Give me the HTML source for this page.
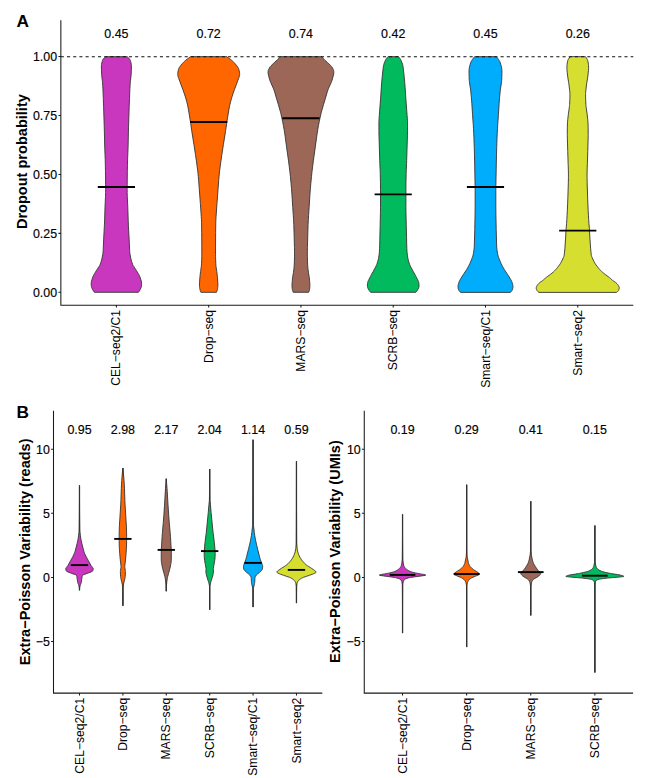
<!DOCTYPE html>
<html><head><meta charset="utf-8"><title>Figure</title>
<style>html,body{margin:0;padding:0;background:#fff;}body{width:645px;height:778px;overflow:hidden;}svg{display:block;} .t{stroke:#000;stroke-width:0.15px;}</style>
</head><body>
<svg width="645" height="778" viewBox="0 0 645 778">
<rect width="645" height="778" fill="#ffffff"/>
<g style="font-family:'Liberation Sans',Arial,sans-serif">
<path d="M127.10,56.65 L128.30,57.65 128.85,58.15 129.33,58.65 129.71,59.15 129.95,59.60 130.35,60.65 130.68,61.65 131.07,63.15 131.26,64.15 131.32,64.65 131.37,65.15 131.40,66.00 131.34,70.15 131.17,74.65 130.98,76.65 130.45,80.65 130.27,82.65 130.08,85.65 129.89,89.15 129.48,98.65 129.21,106.15 128.54,127.15 128.41,132.15 128.08,147.15 127.60,159.15 127.45,165.15 127.34,171.65 127.19,184.15 127.15,189.65 127.16,192.65 127.29,196.65 127.78,206.65 128.19,220.15 128.41,225.65 129.09,238.15 129.57,249.15 129.72,251.65 129.88,253.15 130.10,254.65 130.57,257.15 131.00,259.15 131.52,261.15 132.00,262.65 132.60,264.30 132.98,265.15 133.25,265.65 133.85,266.65 135.52,269.15 136.17,270.15 138.29,273.65 139.14,275.15 139.62,276.15 140.00,277.10 140.88,279.65 141.30,281.15 141.49,282.15 141.59,283.15 141.59,284.15 141.53,285.15 141.44,286.15 141.38,286.65 141.26,287.15 141.09,287.65 140.87,288.15 140.12,289.65 139.85,290.15 139.23,291.15 138.40,292.30 94.40,292.30 93.57,291.15 92.95,290.15 92.68,289.65 91.93,288.15 91.71,287.65 91.54,287.15 91.42,286.65 91.36,286.15 91.27,285.15 91.21,284.15 91.21,283.15 91.31,282.15 91.50,281.15 91.92,279.65 92.80,277.10 93.18,276.15 93.66,275.15 94.51,273.65 96.63,270.15 97.28,269.15 98.95,266.65 99.55,265.65 99.82,265.15 100.20,264.30 100.80,262.65 101.28,261.15 101.80,259.15 102.23,257.15 102.70,254.65 102.92,253.15 103.08,251.65 103.23,249.15 103.71,238.15 104.39,225.65 104.61,220.15 105.02,206.65 105.51,196.65 105.64,192.65 105.65,189.65 105.61,184.15 105.46,171.65 105.35,165.15 105.20,159.15 104.72,147.15 104.39,132.15 104.26,127.15 103.59,106.15 103.32,98.65 102.91,89.15 102.72,85.65 102.53,82.65 102.35,80.65 101.82,76.65 101.63,74.65 101.46,70.15 101.40,66.00 101.43,65.15 101.48,64.65 101.54,64.15 101.73,63.15 102.12,61.65 102.45,60.65 102.85,59.60 103.09,59.15 103.47,58.65 103.95,58.15 104.50,57.65 105.70,56.65 Z" fill="#C837BE" stroke="#333333" stroke-width="0.90" stroke-linejoin="round"/>
<path d="M226.72,56.65 L228.17,57.65 228.87,58.15 230.22,59.15 231.47,60.15 232.63,61.15 233.67,62.15 234.14,62.65 235.04,63.65 236.34,65.15 237.13,66.15 237.50,66.65 237.83,67.15 238.13,67.65 238.39,68.15 238.61,68.65 238.82,69.30 239.16,70.65 239.45,72.15 239.58,73.15 239.61,73.65 239.62,74.15 239.60,74.65 239.55,75.15 239.36,76.15 239.23,76.65 238.91,77.65 238.54,78.65 237.56,81.15 236.50,84.15 234.42,89.65 233.02,93.65 232.19,96.15 231.57,98.20 230.61,101.65 229.98,104.15 229.52,106.20 228.97,109.15 226.97,121.15 226.60,123.65 225.84,129.15 225.47,131.65 223.39,144.65 221.85,154.65 221.04,160.15 220.23,166.15 219.71,170.15 219.31,173.65 219.02,176.65 218.68,180.65 216.96,203.65 216.06,216.65 215.89,219.65 215.78,222.65 215.63,232.65 215.54,245.15 215.52,254.65 215.55,256.65 215.61,259.15 215.79,263.15 215.94,265.65 216.12,267.15 216.59,270.15 216.80,271.65 217.28,275.65 217.48,277.65 217.76,282.15 217.86,285.15 217.87,286.15 217.84,286.65 217.72,287.65 217.54,288.65 217.34,289.65 217.07,290.65 216.72,291.65 216.47,292.30 200.87,292.30 200.62,291.65 200.27,290.65 200.00,289.65 199.80,288.65 199.62,287.65 199.50,286.65 199.47,286.15 199.48,285.15 199.58,282.15 199.86,277.65 200.06,275.65 200.54,271.65 200.75,270.15 201.22,267.15 201.40,265.65 201.55,263.15 201.73,259.15 201.79,256.65 201.82,254.65 201.80,245.15 201.71,232.65 201.56,222.65 201.45,219.65 201.28,216.65 200.38,203.65 198.66,180.65 198.32,176.65 198.03,173.65 197.63,170.15 197.11,166.15 196.30,160.15 195.49,154.65 193.95,144.65 191.87,131.65 191.50,129.15 190.74,123.65 190.37,121.15 188.37,109.15 187.82,106.20 187.36,104.15 186.73,101.65 185.77,98.20 185.15,96.15 184.32,93.65 182.92,89.65 180.84,84.15 179.78,81.15 178.80,78.65 178.43,77.65 178.11,76.65 177.98,76.15 177.79,75.15 177.74,74.65 177.72,74.15 177.73,73.65 177.76,73.15 177.89,72.15 178.18,70.65 178.52,69.30 178.73,68.65 178.95,68.15 179.21,67.65 179.51,67.15 179.84,66.65 180.21,66.15 181.00,65.15 182.30,63.65 183.20,62.65 183.67,62.15 184.71,61.15 185.87,60.15 187.12,59.15 188.47,58.15 189.17,57.65 190.62,56.65 Z" fill="#FF6600" stroke="#333333" stroke-width="0.90" stroke-linejoin="round"/>
<path d="M321.94,56.65 L322.69,57.65 323.50,58.65 324.39,59.65 324.88,60.15 325.94,61.15 327.64,62.65 328.18,63.15 330.76,65.65 331.23,66.15 331.64,66.65 332.00,67.15 332.54,68.15 333.05,69.15 333.47,70.15 333.64,70.65 333.76,71.15 333.83,71.65 333.84,72.00 333.82,72.65 333.72,73.65 333.44,75.15 333.06,76.65 332.37,79.15 332.06,80.15 331.71,81.15 331.10,82.65 329.06,87.15 328.42,88.65 327.84,90.20 327.05,92.65 325.45,98.15 323.49,104.65 321.92,110.15 321.37,112.15 321.00,113.65 320.08,117.65 319.23,121.65 318.45,125.65 317.75,129.65 317.19,133.15 316.63,137.15 315.42,146.15 313.45,160.15 312.61,166.65 312.01,171.65 311.47,176.65 310.85,183.15 310.37,188.65 309.96,194.15 309.10,207.65 308.56,215.65 308.31,219.65 308.08,224.65 307.84,232.15 307.43,247.65 307.36,251.65 307.34,254.10 307.35,256.15 307.49,261.15 307.66,265.15 307.86,267.65 308.08,269.65 308.45,272.65 309.14,276.65 309.36,278.15 309.60,280.65 309.76,282.65 309.85,284.15 309.89,285.65 309.89,286.15 309.84,287.15 309.73,288.15 309.52,289.65 309.41,290.15 309.27,290.65 309.10,291.15 308.64,292.30 293.24,292.30 292.78,291.15 292.61,290.65 292.47,290.15 292.36,289.65 292.15,288.15 292.04,287.15 291.99,286.15 291.99,285.65 292.03,284.15 292.12,282.65 292.28,280.65 292.52,278.15 292.74,276.65 293.43,272.65 293.80,269.65 294.02,267.65 294.22,265.15 294.39,261.15 294.53,256.15 294.54,254.10 294.52,251.65 294.45,247.65 294.04,232.15 293.80,224.65 293.57,219.65 293.32,215.65 292.78,207.65 291.92,194.15 291.51,188.65 291.03,183.15 290.41,176.65 289.87,171.65 289.27,166.65 288.43,160.15 286.46,146.15 285.25,137.15 284.69,133.15 284.13,129.65 283.43,125.65 282.65,121.65 281.80,117.65 280.88,113.65 280.51,112.15 279.96,110.15 278.39,104.65 276.43,98.15 274.83,92.65 274.04,90.20 273.46,88.65 272.82,87.15 270.78,82.65 270.17,81.15 269.82,80.15 269.51,79.15 268.82,76.65 268.44,75.15 268.16,73.65 268.06,72.65 268.04,72.00 268.05,71.65 268.12,71.15 268.24,70.65 268.41,70.15 268.83,69.15 269.34,68.15 269.88,67.15 270.24,66.65 270.65,66.15 271.12,65.65 273.70,63.15 274.24,62.65 275.94,61.15 277.00,60.15 277.49,59.65 278.38,58.65 279.19,57.65 279.94,56.65 Z" fill="#9C6757" stroke="#333333" stroke-width="0.90" stroke-linejoin="round"/>
<path d="M398.46,56.65 L399.31,57.65 399.71,58.15 400.08,58.65 400.41,59.15 400.66,59.60 400.93,60.15 401.39,61.15 402.00,62.65 402.50,64.15 402.87,65.65 403.21,67.65 403.46,69.65 404.29,77.65 404.76,82.65 405.09,87.15 405.81,98.20 406.71,110.15 407.07,115.15 407.35,118.65 407.47,120.65 407.51,122.15 407.51,130.65 407.45,135.15 406.67,160.65 406.57,163.65 406.25,170.65 406.14,173.65 405.98,182.65 405.91,189.65 405.91,207.65 405.97,212.65 406.27,225.65 406.56,237.15 406.71,245.15 406.85,248.65 407.03,251.65 407.16,253.15 407.40,255.15 407.70,257.15 407.97,258.65 408.32,260.15 408.73,261.65 409.21,263.15 409.74,264.65 410.16,265.65 410.89,267.15 413.32,271.65 415.03,274.65 415.58,275.65 416.09,276.65 416.58,277.65 417.62,279.65 418.10,280.65 418.32,281.15 418.51,281.65 418.67,282.15 418.79,282.65 418.88,283.15 418.91,283.50 418.99,285.15 419.01,286.50 419.00,286.65 418.92,287.15 418.76,287.65 418.53,288.15 417.73,289.65 417.44,290.15 417.11,290.65 416.75,291.15 416.36,291.65 415.81,292.30 370.61,292.30 370.06,291.65 369.67,291.15 369.31,290.65 368.98,290.15 368.69,289.65 367.89,288.15 367.66,287.65 367.50,287.15 367.42,286.65 367.41,286.50 367.43,285.15 367.51,283.50 367.54,283.15 367.63,282.65 367.75,282.15 367.91,281.65 368.10,281.15 368.32,280.65 368.80,279.65 369.84,277.65 370.33,276.65 370.84,275.65 371.39,274.65 373.10,271.65 375.53,267.15 376.26,265.65 376.68,264.65 377.21,263.15 377.69,261.65 378.10,260.15 378.45,258.65 378.72,257.15 379.02,255.15 379.26,253.15 379.39,251.65 379.57,248.65 379.71,245.15 379.86,237.15 380.15,225.65 380.45,212.65 380.51,207.65 380.51,189.65 380.44,182.65 380.28,173.65 380.17,170.65 379.85,163.65 379.75,160.65 378.97,135.15 378.91,130.65 378.91,122.15 378.95,120.65 379.07,118.65 379.35,115.15 379.71,110.15 380.61,98.20 381.33,87.15 381.66,82.65 382.13,77.65 382.96,69.65 383.21,67.65 383.55,65.65 383.92,64.15 384.42,62.65 385.03,61.15 385.49,60.15 385.76,59.60 386.01,59.15 386.34,58.65 386.71,58.15 387.11,57.65 387.96,56.65 Z" fill="#00BA5D" stroke="#333333" stroke-width="0.90" stroke-linejoin="round"/>
<path d="M496.33,56.65 L497.55,58.15 498.30,59.15 498.65,59.65 499.29,60.65 499.58,61.15 499.83,61.65 500.06,62.15 500.33,62.90 500.86,64.65 501.26,66.15 501.50,67.15 501.69,68.15 501.83,69.15 501.91,70.15 501.93,70.90 501.91,73.65 501.85,76.65 501.77,79.15 501.67,80.65 501.57,81.65 501.38,83.15 500.60,88.15 500.28,90.65 499.91,94.15 499.62,97.15 499.37,100.15 499.12,103.65 498.43,114.30 497.71,124.65 497.47,128.65 497.24,133.15 497.02,138.15 496.69,147.65 496.52,154.15 496.29,164.15 495.87,185.65 495.83,190.65 495.83,207.15 495.90,214.15 496.21,229.65 496.57,243.15 496.73,247.15 496.90,249.15 497.16,251.15 497.58,253.65 497.89,255.15 498.17,256.15 498.68,257.65 499.25,259.15 500.48,262.15 501.16,263.65 501.89,265.15 502.68,266.65 503.58,268.30 504.08,269.15 504.71,270.15 507.07,273.65 507.72,274.65 510.51,279.15 511.08,280.15 511.57,281.15 511.78,281.65 512.08,282.50 512.70,284.65 512.90,285.65 512.96,286.15 512.98,286.65 512.96,287.15 512.91,287.65 512.82,288.15 512.58,289.15 512.43,289.65 512.21,290.15 511.91,290.65 511.53,291.15 511.10,291.65 510.38,292.40 460.58,292.40 459.86,291.65 459.43,291.15 459.05,290.65 458.75,290.15 458.53,289.65 458.38,289.15 458.14,288.15 458.05,287.65 458.00,287.15 457.98,286.65 458.00,286.15 458.06,285.65 458.26,284.65 458.88,282.50 459.18,281.65 459.39,281.15 459.88,280.15 460.45,279.15 463.24,274.65 463.89,273.65 466.25,270.15 466.88,269.15 467.38,268.30 468.28,266.65 469.07,265.15 469.80,263.65 470.48,262.15 471.71,259.15 472.28,257.65 472.79,256.15 473.07,255.15 473.38,253.65 473.80,251.15 474.06,249.15 474.23,247.15 474.39,243.15 474.75,229.65 475.06,214.15 475.13,207.15 475.13,190.65 475.09,185.65 474.67,164.15 474.44,154.15 474.27,147.65 473.94,138.15 473.72,133.15 473.49,128.65 473.25,124.65 472.53,114.30 471.84,103.65 471.59,100.15 471.34,97.15 471.05,94.15 470.68,90.65 470.36,88.15 469.58,83.15 469.39,81.65 469.29,80.65 469.19,79.15 469.11,76.65 469.05,73.65 469.03,70.90 469.05,70.15 469.13,69.15 469.27,68.15 469.46,67.15 469.70,66.15 470.10,64.65 470.63,62.90 470.90,62.15 471.13,61.65 471.38,61.15 471.67,60.65 472.31,59.65 472.66,59.15 473.41,58.15 474.63,56.65 Z" fill="#00ACFC" stroke="#333333" stroke-width="0.90" stroke-linejoin="round"/>
<path d="M585.40,56.65 L586.47,58.15 587.09,59.15 587.36,59.65 587.58,60.15 587.76,60.65 587.89,61.15 588.07,62.15 588.37,64.15 588.52,65.65 588.59,67.15 588.58,68.65 588.46,70.65 588.31,72.15 587.85,76.15 587.57,78.15 586.82,82.65 586.60,84.15 585.81,90.65 585.67,92.15 585.58,93.65 585.55,94.65 585.56,96.15 585.60,98.15 585.69,100.65 585.90,104.60 585.98,105.65 586.08,106.65 586.27,108.15 587.01,113.15 587.76,119.65 587.93,121.65 588.02,123.15 588.13,127.15 588.20,133.15 588.19,135.65 588.14,138.15 587.75,151.65 587.36,163.65 587.13,170.15 587.05,174.15 587.07,177.65 587.15,182.15 587.65,198.15 587.88,204.15 588.15,210.15 588.40,215.15 588.67,219.65 588.93,223.65 589.38,228.65 589.49,230.15 589.90,238.15 590.60,248.15 590.94,252.15 591.17,254.15 591.42,255.65 591.56,256.15 591.73,256.65 592.15,257.65 593.29,260.15 593.78,261.15 594.31,262.15 595.18,263.65 595.50,264.15 596.21,265.15 596.97,266.15 598.17,267.65 598.98,268.65 599.83,269.65 600.76,270.65 601.25,271.15 601.78,271.65 602.35,272.15 603.55,273.15 605.25,274.50 606.11,275.15 608.24,276.65 608.93,277.15 609.59,277.65 610.19,278.15 610.74,278.65 611.78,279.65 612.33,280.15 612.75,280.50 612.95,280.65 613.68,281.15 614.47,281.65 615.23,282.15 615.80,282.60 616.92,283.65 617.40,284.15 617.82,284.65 618.19,285.15 618.48,285.65 618.71,286.15 618.94,286.65 619.13,287.15 619.26,287.65 619.30,288.10 619.24,288.65 619.09,289.15 618.88,289.65 618.50,290.40 618.35,290.65 617.95,291.15 617.45,291.65 616.55,292.40 538.95,292.40 538.05,291.65 537.55,291.15 537.15,290.65 537.00,290.40 536.62,289.65 536.41,289.15 536.26,288.65 536.20,288.10 536.24,287.65 536.37,287.15 536.56,286.65 536.79,286.15 537.02,285.65 537.31,285.15 537.68,284.65 538.10,284.15 538.58,283.65 539.70,282.60 540.27,282.15 541.03,281.65 541.82,281.15 542.55,280.65 542.75,280.50 543.17,280.15 543.72,279.65 544.76,278.65 545.31,278.15 545.91,277.65 546.57,277.15 547.26,276.65 549.39,275.15 550.25,274.50 551.95,273.15 553.15,272.15 553.72,271.65 554.25,271.15 554.74,270.65 555.67,269.65 556.52,268.65 557.33,267.65 558.53,266.15 559.29,265.15 560.00,264.15 560.32,263.65 561.19,262.15 561.72,261.15 562.21,260.15 563.35,257.65 563.77,256.65 563.94,256.15 564.08,255.65 564.33,254.15 564.56,252.15 564.90,248.15 565.60,238.15 566.01,230.15 566.12,228.65 566.57,223.65 566.83,219.65 567.10,215.15 567.35,210.15 567.62,204.15 567.85,198.15 568.35,182.15 568.43,177.65 568.45,174.15 568.37,170.15 568.14,163.65 567.75,151.65 567.36,138.15 567.31,135.65 567.30,133.15 567.37,127.15 567.48,123.15 567.57,121.65 567.74,119.65 568.49,113.15 569.23,108.15 569.42,106.65 569.52,105.65 569.60,104.60 569.81,100.65 569.90,98.15 569.94,96.15 569.95,94.65 569.92,93.65 569.83,92.15 569.69,90.65 568.90,84.15 568.68,82.65 567.93,78.15 567.65,76.15 567.19,72.15 567.04,70.65 566.92,68.65 566.91,67.15 566.98,65.65 567.13,64.15 567.43,62.15 567.61,61.15 567.74,60.65 567.92,60.15 568.14,59.65 568.41,59.15 569.03,58.15 570.10,56.65 Z" fill="#D6DE30" stroke="#333333" stroke-width="0.90" stroke-linejoin="round"/>
<line x1="60.8" y1="56.7" x2="633.3" y2="56.7" stroke="#111" stroke-width="1.1" stroke-dasharray="3.1 3.094"/>
<line x1="97.80" y1="187.00" x2="135.00" y2="187.00" stroke="#000" stroke-width="1.9"/>
<line x1="190.07" y1="122.00" x2="227.27" y2="122.00" stroke="#000" stroke-width="1.9"/>
<line x1="282.34" y1="118.20" x2="319.54" y2="118.20" stroke="#000" stroke-width="1.9"/>
<line x1="374.61" y1="194.40" x2="411.81" y2="194.40" stroke="#000" stroke-width="1.9"/>
<line x1="466.88" y1="187.05" x2="504.08" y2="187.05" stroke="#000" stroke-width="1.9"/>
<line x1="559.15" y1="230.60" x2="596.35" y2="230.60" stroke="#000" stroke-width="1.9"/>
<path d="M60.85,20.30 V305.18 H633.30 M58.45,292.30 H60.85 M58.45,233.36 H60.85 M58.45,174.43 H60.85 M58.45,115.49 H60.85 M58.45,56.55 H60.85 M116.40,305.18 V307.58 M208.67,305.18 V307.58 M300.94,305.18 V307.58 M393.21,305.18 V307.58 M485.48,305.18 V307.58 M577.75,305.18 V307.58" fill="none" stroke="#1a1a1a" stroke-width="1.05"/>
<text x="57.1" y="296.70" font-size="12.4" text-anchor="end" fill="#000000" class="t">0.00</text>
<text x="57.1" y="237.76" font-size="12.4" text-anchor="end" fill="#000000" class="t">0.25</text>
<text x="57.1" y="178.83" font-size="12.4" text-anchor="end" fill="#000000" class="t">0.50</text>
<text x="57.1" y="119.89" font-size="12.4" text-anchor="end" fill="#000000" class="t">0.75</text>
<text x="57.1" y="60.95" font-size="12.4" text-anchor="end" fill="#000000" class="t">1.00</text>
<text transform="translate(120.45,309.9) rotate(-90)" font-size="12.15" text-anchor="end" fill="#000000">CEL−seq2/C1</text>
<text transform="translate(212.72,309.9) rotate(-90)" font-size="12.15" text-anchor="end" fill="#000000">Drop−seq</text>
<text transform="translate(304.99,309.9) rotate(-90)" font-size="12.15" text-anchor="end" fill="#000000">MARS−seq</text>
<text transform="translate(397.26,309.9) rotate(-90)" font-size="12.15" text-anchor="end" fill="#000000">SCRB−seq</text>
<text transform="translate(489.53,309.9) rotate(-90)" font-size="12.15" text-anchor="end" fill="#000000">Smart−seq/C1</text>
<text transform="translate(581.80,309.9) rotate(-90)" font-size="12.15" text-anchor="end" fill="#000000">Smart−seq2</text>
<text x="116.40" y="38.1" font-size="12.45" text-anchor="middle" fill="#000000" class="t">0.45</text>
<text x="208.67" y="38.1" font-size="12.45" text-anchor="middle" fill="#000000" class="t">0.72</text>
<text x="300.94" y="38.1" font-size="12.45" text-anchor="middle" fill="#000000" class="t">0.74</text>
<text x="393.21" y="38.1" font-size="12.45" text-anchor="middle" fill="#000000" class="t">0.42</text>
<text x="485.48" y="38.1" font-size="12.45" text-anchor="middle" fill="#000000" class="t">0.45</text>
<text x="577.75" y="38.1" font-size="12.45" text-anchor="middle" fill="#000000" class="t">0.26</text>
<text transform="translate(27.4,161.65) rotate(-90)" font-size="14.55" font-weight="bold" text-anchor="middle" fill="#000">Dropout probability</text>
<text x="16.6" y="26.8" font-size="17.3" font-weight="bold" fill="#000">A</text>
<line x1="79.49" y1="485.40" x2="79.49" y2="590.30" stroke="#2a2a2a" stroke-width="1.25"/><path d="M79.49,485.40 L79.51,498.40 79.56,509.90 79.66,520.40 79.79,530.00 79.83,530.90 79.99,532.40 80.37,535.40 80.74,537.90 81.00,539.40 81.29,540.90 81.95,543.90 83.75,550.90 84.09,552.00 84.42,552.90 84.84,553.90 85.31,554.90 86.29,556.90 86.83,557.90 88.53,560.90 90.15,563.90 90.99,565.40 91.32,565.90 92.53,567.40 92.87,567.90 93.12,568.40 93.24,568.90 93.24,569.00 93.21,569.40 93.11,569.90 92.95,570.40 92.79,570.80 92.74,570.90 92.14,571.40 91.14,571.90 89.88,572.40 88.52,572.90 87.23,573.40 86.99,573.50 85.89,573.90 84.31,574.40 82.99,574.90 82.49,575.30 82.29,575.90 82.16,576.40 82.07,576.90 81.72,579.40 81.48,581.40 81.29,582.50 81.18,582.90 80.97,583.40 80.49,584.40 80.28,584.90 80.01,585.90 79.80,586.90 79.71,587.40 79.60,588.40 79.52,589.40 79.49,590.30 79.49,590.30 79.46,589.40 79.38,588.40 79.27,587.40 79.18,586.90 78.97,585.90 78.70,584.90 78.49,584.40 78.01,583.40 77.80,582.90 77.69,582.50 77.50,581.40 77.26,579.40 76.91,576.90 76.82,576.40 76.69,575.90 76.49,575.30 75.99,574.90 74.67,574.40 73.09,573.90 71.99,573.50 71.75,573.40 70.46,572.90 69.10,572.40 67.84,571.90 66.84,571.40 66.24,570.90 66.19,570.80 66.03,570.40 65.87,569.90 65.77,569.40 65.74,569.00 65.74,568.90 65.86,568.40 66.11,567.90 66.45,567.40 67.66,565.90 67.99,565.40 68.83,563.90 70.45,560.90 72.15,557.90 72.69,556.90 73.67,554.90 74.14,553.90 74.56,552.90 74.89,552.00 75.23,550.90 77.03,543.90 77.69,540.90 77.98,539.40 78.24,537.90 78.61,535.40 78.99,532.40 79.15,530.90 79.19,530.00 79.32,520.40 79.42,509.90 79.47,498.40 79.49,485.40 Z" fill="#C837BE" stroke="#333333" stroke-width="0.90" stroke-linejoin="round"/>
<line x1="122.89" y1="468.10" x2="122.89" y2="605.80" stroke="#2a2a2a" stroke-width="1.25"/><path d="M122.89,468.10 L123.79,477.10 124.05,480.60 124.26,484.10 124.47,488.60 124.88,500.60 125.03,504.10 126.00,520.10 126.34,525.10 126.45,527.10 126.60,532.60 126.64,536.70 126.61,540.60 126.54,545.10 126.47,547.10 126.34,549.60 126.07,553.60 125.86,556.10 125.25,562.10 124.88,565.10 124.80,566.10 124.79,566.70 124.84,567.60 124.90,568.10 125.32,570.60 125.39,571.60 125.34,574.10 125.19,576.70 125.08,577.60 124.88,578.60 124.23,581.10 123.55,584.10 123.22,586.10 123.10,587.10 123.06,587.60 122.99,590.60 122.93,595.60 122.89,605.80 122.89,605.80 122.85,595.60 122.79,590.60 122.72,587.60 122.68,587.10 122.56,586.10 122.23,584.10 121.55,581.10 120.90,578.60 120.70,577.60 120.59,576.70 120.44,574.10 120.39,571.60 120.46,570.60 120.88,568.10 120.94,567.60 120.99,566.70 120.98,566.10 120.90,565.10 120.53,562.10 119.92,556.10 119.71,553.60 119.44,549.60 119.31,547.10 119.24,545.10 119.17,540.60 119.14,536.70 119.18,532.60 119.33,527.10 119.44,525.10 119.78,520.10 120.75,504.10 120.90,500.60 121.31,488.60 121.52,484.10 121.73,480.60 121.99,477.10 122.89,468.10 Z" fill="#FF6600" stroke="#333333" stroke-width="0.90" stroke-linejoin="round"/>
<line x1="166.28" y1="478.70" x2="166.28" y2="591.20" stroke="#2a2a2a" stroke-width="1.25"/><path d="M166.28,478.70 L166.59,483.20 167.05,488.70 167.23,491.20 168.04,505.20 168.68,514.70 169.28,522.70 170.16,532.70 170.47,536.70 170.96,545.20 171.23,549.20 171.30,550.70 171.33,552.30 171.28,560.20 171.22,561.20 171.12,562.20 170.98,563.20 170.71,564.70 169.88,568.70 169.48,570.20 168.46,573.70 167.68,576.70 167.45,577.70 167.26,578.70 166.91,581.20 166.45,585.20 166.40,586.00 166.32,588.20 166.28,591.20 166.28,591.20 166.24,588.20 166.16,586.00 166.11,585.20 165.65,581.20 165.30,578.70 165.11,577.70 164.88,576.70 164.10,573.70 163.08,570.20 162.68,568.70 161.85,564.70 161.58,563.20 161.44,562.20 161.34,561.20 161.28,560.20 161.23,552.30 161.26,550.70 161.33,549.20 161.60,545.20 162.09,536.70 162.40,532.70 163.28,522.70 163.88,514.70 164.52,505.20 165.33,491.20 165.51,488.70 165.97,483.20 166.28,478.70 Z" fill="#9C6757" stroke="#333333" stroke-width="0.90" stroke-linejoin="round"/>
<line x1="209.68" y1="469.00" x2="209.68" y2="609.80" stroke="#2a2a2a" stroke-width="1.25"/><path d="M209.68,469.00 L209.70,478.00 209.76,486.00 209.86,494.00 210.00,500.50 210.08,501.50 210.38,504.20 211.10,512.50 212.92,531.00 213.20,533.50 213.92,539.00 214.33,542.50 214.59,545.00 215.05,550.50 215.14,552.00 215.18,553.70 215.16,555.00 215.10,556.50 215.02,558.00 214.93,559.00 214.71,560.50 214.03,564.50 213.54,567.00 213.40,568.00 213.36,568.50 213.33,569.20 213.43,572.10 213.37,573.00 213.29,573.50 213.06,574.50 212.26,577.50 211.28,580.60 210.63,582.50 210.48,583.00 210.04,585.00 209.87,586.00 209.82,586.50 209.78,589.00 209.72,596.00 209.68,609.80 209.68,609.80 209.64,596.00 209.58,589.00 209.54,586.50 209.49,586.00 209.32,585.00 208.88,583.00 208.73,582.50 208.08,580.60 207.10,577.50 206.30,574.50 206.07,573.50 205.99,573.00 205.93,572.10 206.03,569.20 206.00,568.50 205.96,568.00 205.82,567.00 205.33,564.50 204.65,560.50 204.43,559.00 204.34,558.00 204.26,556.50 204.20,555.00 204.18,553.70 204.22,552.00 204.31,550.50 204.77,545.00 205.03,542.50 205.44,539.00 206.16,533.50 206.44,531.00 208.26,512.50 208.98,504.20 209.28,501.50 209.36,500.50 209.50,494.00 209.60,486.00 209.66,478.00 209.68,469.00 Z" fill="#00BA5D" stroke="#333333" stroke-width="0.90" stroke-linejoin="round"/>
<line x1="253.07" y1="439.70" x2="253.07" y2="607.10" stroke="#2a2a2a" stroke-width="1.25"/><path d="M253.07,439.70 L253.08,468.20 253.13,490.70 253.24,513.70 253.32,524.00 253.35,524.70 253.47,525.70 253.77,527.70 254.33,532.70 254.68,535.20 255.02,537.20 255.50,539.70 255.90,541.70 256.44,544.20 256.91,546.20 257.77,549.70 259.55,556.70 259.95,558.20 260.42,559.70 261.48,562.70 262.12,564.20 262.32,564.70 262.49,565.20 262.61,565.70 262.67,566.30 262.64,567.20 262.53,568.20 262.37,569.20 262.17,569.70 261.80,570.20 261.31,570.70 260.19,571.70 259.67,572.20 259.10,572.70 257.82,573.70 257.22,574.20 256.71,574.70 256.33,575.20 255.65,576.20 255.37,576.70 255.15,577.20 255.00,577.70 254.89,578.70 254.75,581.70 254.67,582.70 254.60,583.20 254.51,583.70 254.29,584.70 253.57,587.50 253.33,588.70 253.20,589.70 253.10,597.20 253.07,607.10 253.07,607.10 253.04,597.20 252.94,589.70 252.81,588.70 252.57,587.50 251.85,584.70 251.63,583.70 251.54,583.20 251.47,582.70 251.39,581.70 251.25,578.70 251.14,577.70 250.99,577.20 250.77,576.70 250.49,576.20 249.81,575.20 249.43,574.70 248.92,574.20 248.32,573.70 247.04,572.70 246.47,572.20 245.95,571.70 244.83,570.70 244.34,570.20 243.97,569.70 243.77,569.20 243.61,568.20 243.50,567.20 243.47,566.30 243.53,565.70 243.65,565.20 243.82,564.70 244.02,564.20 244.66,562.70 245.72,559.70 246.19,558.20 246.59,556.70 248.37,549.70 249.23,546.20 249.70,544.20 250.24,541.70 250.64,539.70 251.12,537.20 251.46,535.20 251.81,532.70 252.37,527.70 252.67,525.70 252.79,524.70 252.82,524.00 252.90,513.70 253.01,490.70 253.06,468.20 253.07,439.70 Z" fill="#00ACFC" stroke="#333333" stroke-width="0.90" stroke-linejoin="round"/>
<line x1="296.47" y1="461.30" x2="296.47" y2="603.10" stroke="#2a2a2a" stroke-width="1.25"/><path d="M296.47,461.30 L296.51,507.30 296.58,525.80 296.67,543.00 296.72,544.30 296.89,546.30 297.11,548.30 297.35,549.80 297.65,551.30 298.06,552.80 298.57,554.30 298.76,554.80 299.21,555.80 299.99,557.30 300.87,558.80 301.54,559.80 301.91,560.30 302.77,561.40 303.56,562.30 304.54,563.30 305.64,564.30 306.47,565.00 306.85,565.30 307.55,565.80 308.31,566.30 310.70,567.80 311.47,568.30 313.71,569.80 314.39,570.30 315.60,571.30 316.07,571.80 316.17,572.10 316.10,572.30 315.49,572.80 314.17,573.50 313.56,573.80 312.31,574.30 310.89,574.80 309.41,575.30 307.99,575.80 306.50,576.30 304.96,576.80 303.53,577.30 302.37,577.80 301.45,578.30 300.63,578.80 299.92,579.30 299.33,579.80 298.81,580.30 298.34,580.80 297.94,581.30 297.62,581.80 297.47,582.10 297.21,582.80 297.06,583.30 296.94,583.80 296.72,585.30 296.62,586.30 296.58,587.80 296.51,593.30 296.47,603.10 296.47,603.10 296.43,593.30 296.36,587.80 296.32,586.30 296.22,585.30 296.00,583.80 295.88,583.30 295.73,582.80 295.47,582.10 295.32,581.80 295.00,581.30 294.60,580.80 294.13,580.30 293.61,579.80 293.02,579.30 292.31,578.80 291.49,578.30 290.57,577.80 289.41,577.30 287.98,576.80 286.44,576.30 284.95,575.80 283.53,575.30 282.05,574.80 280.63,574.30 279.38,573.80 278.77,573.50 277.45,572.80 276.84,572.30 276.77,572.10 276.87,571.80 277.34,571.30 278.55,570.30 279.23,569.80 281.47,568.30 282.24,567.80 284.63,566.30 285.39,565.80 286.09,565.30 286.47,565.00 287.30,564.30 288.40,563.30 289.38,562.30 290.17,561.40 291.03,560.30 291.40,559.80 292.07,558.80 292.95,557.30 293.73,555.80 294.18,554.80 294.37,554.30 294.88,552.80 295.29,551.30 295.59,549.80 295.83,548.30 296.05,546.30 296.22,544.30 296.27,543.00 296.36,525.80 296.43,507.30 296.47,461.30 Z" fill="#D6DE30" stroke="#333333" stroke-width="0.90" stroke-linejoin="round"/>
<line x1="70.81" y1="565.10" x2="88.17" y2="565.10" stroke="#000" stroke-width="1.9"/>
<line x1="114.21" y1="538.90" x2="131.57" y2="538.90" stroke="#000" stroke-width="1.9"/>
<line x1="157.60" y1="549.90" x2="174.96" y2="549.90" stroke="#000" stroke-width="1.9"/>
<line x1="201.00" y1="551.10" x2="218.36" y2="551.10" stroke="#000" stroke-width="1.9"/>
<line x1="244.39" y1="562.90" x2="261.75" y2="562.90" stroke="#000" stroke-width="1.9"/>
<line x1="287.79" y1="569.90" x2="305.15" y2="569.90" stroke="#000" stroke-width="1.9"/>
<path d="M53.50,410.70 V693.13 H322.30 M51.10,449.20 H53.50 M51.10,513.30 H53.50 M51.10,577.40 H53.50 M51.10,641.50 H53.50 M79.49,693.13 V695.53 M122.89,693.13 V695.53 M166.28,693.13 V695.53 M209.68,693.13 V695.53 M253.07,693.13 V695.53 M296.47,693.13 V695.53" fill="none" stroke="#1a1a1a" stroke-width="1.05"/>
<text x="49.9" y="453.60" font-size="12.4" text-anchor="end" fill="#000000" class="t">10</text>
<text x="49.9" y="517.70" font-size="12.4" text-anchor="end" fill="#000000" class="t">5</text>
<text x="49.9" y="581.80" font-size="12.4" text-anchor="end" fill="#000000" class="t">0</text>
<text x="49.9" y="645.90" font-size="12.4" text-anchor="end" fill="#000000" class="t">−5</text>
<text transform="translate(83.54,697.8) rotate(-90)" font-size="12.15" text-anchor="end" fill="#000000">CEL−seq2/C1</text>
<text transform="translate(126.94,697.8) rotate(-90)" font-size="12.15" text-anchor="end" fill="#000000">Drop−seq</text>
<text transform="translate(170.33,697.8) rotate(-90)" font-size="12.15" text-anchor="end" fill="#000000">MARS−seq</text>
<text transform="translate(213.73,697.8) rotate(-90)" font-size="12.15" text-anchor="end" fill="#000000">SCRB−seq</text>
<text transform="translate(257.12,697.8) rotate(-90)" font-size="12.15" text-anchor="end" fill="#000000">Smart−seq/C1</text>
<text transform="translate(300.52,697.8) rotate(-90)" font-size="12.15" text-anchor="end" fill="#000000">Smart−seq2</text>
<text x="79.49" y="433.8" font-size="12.45" text-anchor="middle" fill="#000000" class="t">0.95</text>
<text x="122.89" y="433.8" font-size="12.45" text-anchor="middle" fill="#000000" class="t">2.98</text>
<text x="166.28" y="433.8" font-size="12.45" text-anchor="middle" fill="#000000" class="t">2.17</text>
<text x="209.68" y="433.8" font-size="12.45" text-anchor="middle" fill="#000000" class="t">2.04</text>
<text x="253.07" y="433.8" font-size="12.45" text-anchor="middle" fill="#000000" class="t">1.14</text>
<text x="296.47" y="433.8" font-size="12.45" text-anchor="middle" fill="#000000" class="t">0.59</text>
<text transform="translate(29.5,551.85) rotate(-90)" font-size="14.55" font-weight="bold" text-anchor="middle" fill="#000">Extra−Poisson Variability (reads)</text>
<line x1="402.54" y1="514.40" x2="402.54" y2="633.10" stroke="#2a2a2a" stroke-width="1.25"/><path d="M402.54,514.40 L402.59,539.40 402.65,549.40 402.74,559.00 402.79,559.90 402.84,560.40 403.35,563.90 403.59,565.00 403.71,565.40 403.90,565.90 404.13,566.40 404.40,566.90 404.84,567.60 405.07,567.90 405.53,568.40 406.10,568.90 406.74,569.40 407.44,569.90 408.21,570.40 409.09,570.90 410.15,571.40 411.14,571.80 411.42,571.90 413.18,572.40 415.31,572.90 417.54,573.40 420.34,573.90 423.45,574.40 425.52,574.90 425.74,575.10 425.01,575.40 421.67,575.90 417.84,576.40 414.16,576.90 410.64,577.40 409.64,577.60 408.46,577.90 406.77,578.40 405.50,578.90 404.84,579.30 404.23,579.90 403.86,580.40 403.59,580.90 403.38,581.40 403.21,581.90 403.08,582.40 402.87,583.40 402.70,584.40 402.66,585.00 402.57,605.90 402.54,633.10 402.54,633.10 402.51,605.90 402.42,585.00 402.38,584.40 402.21,583.40 402.00,582.40 401.87,581.90 401.70,581.40 401.49,580.90 401.22,580.40 400.85,579.90 400.24,579.30 399.58,578.90 398.31,578.40 396.62,577.90 395.44,577.60 394.44,577.40 390.92,576.90 387.24,576.40 383.41,575.90 380.07,575.40 379.34,575.10 379.56,574.90 381.63,574.40 384.74,573.90 387.54,573.40 389.77,572.90 391.90,572.40 393.66,571.90 393.94,571.80 394.93,571.40 395.99,570.90 396.87,570.40 397.64,569.90 398.34,569.40 398.98,568.90 399.55,568.40 400.01,567.90 400.24,567.60 400.68,566.90 400.95,566.40 401.18,565.90 401.37,565.40 401.49,565.00 401.73,563.90 402.24,560.40 402.29,559.90 402.34,559.00 402.43,549.40 402.49,539.40 402.54,514.40 Z" fill="#C837BE" stroke="#333333" stroke-width="0.90" stroke-linejoin="round"/>
<line x1="466.65" y1="484.70" x2="466.65" y2="647.10" stroke="#2a2a2a" stroke-width="1.25"/><path d="M466.65,484.70 L466.69,518.70 466.81,546.20 466.86,552.70 466.96,554.70 467.12,556.70 467.30,557.70 467.80,559.80 468.25,562.20 468.51,563.20 468.68,563.70 469.12,564.70 469.67,565.70 470.05,566.30 470.34,566.70 470.77,567.20 471.25,567.70 471.79,568.20 472.98,569.20 473.61,569.70 474.37,570.20 476.05,571.20 476.85,571.70 478.92,573.20 479.41,573.70 479.55,574.10 479.53,574.20 478.97,574.70 477.88,575.20 476.63,575.70 475.51,576.20 474.28,576.70 473.01,577.20 471.88,577.70 471.35,578.00 471.05,578.20 470.36,578.70 469.74,579.20 469.20,579.70 468.75,580.20 468.45,580.60 468.07,581.20 467.81,581.70 467.59,582.20 467.45,582.60 467.13,583.70 467.02,584.20 466.94,584.70 466.84,585.70 466.77,586.70 466.75,587.50 466.67,613.70 466.65,647.10 466.65,647.10 466.63,613.70 466.55,587.50 466.53,586.70 466.46,585.70 466.36,584.70 466.28,584.20 466.17,583.70 465.85,582.60 465.71,582.20 465.49,581.70 465.23,581.20 464.85,580.60 464.55,580.20 464.10,579.70 463.56,579.20 462.94,578.70 462.25,578.20 461.95,578.00 461.42,577.70 460.29,577.20 459.02,576.70 457.79,576.20 456.67,575.70 455.42,575.20 454.33,574.70 453.77,574.20 453.75,574.10 453.89,573.70 454.38,573.20 456.45,571.70 457.25,571.20 458.93,570.20 459.69,569.70 460.32,569.20 461.51,568.20 462.05,567.70 462.53,567.20 462.96,566.70 463.25,566.30 463.63,565.70 464.18,564.70 464.62,563.70 464.79,563.20 465.05,562.20 465.50,559.80 466.00,557.70 466.18,556.70 466.34,554.70 466.44,552.70 466.49,546.20 466.61,518.70 466.65,484.70 Z" fill="#FF6600" stroke="#333333" stroke-width="0.90" stroke-linejoin="round"/>
<line x1="530.75" y1="501.30" x2="530.75" y2="615.40" stroke="#2a2a2a" stroke-width="1.25"/><path d="M530.75,501.30 L530.80,527.30 530.86,538.30 530.95,549.00 530.99,550.30 531.04,551.30 531.16,552.80 531.31,554.30 531.47,555.30 531.94,557.80 532.25,559.30 532.50,560.30 532.78,561.30 533.10,562.30 533.50,563.30 533.74,563.80 534.29,564.80 535.17,566.30 535.83,567.30 536.90,568.80 537.65,569.80 538.55,570.90 538.95,571.30 540.13,572.30 540.57,572.80 540.75,573.30 540.64,573.80 540.36,574.30 539.58,575.30 539.05,575.80 538.39,576.30 536.75,577.40 536.08,577.80 535.15,578.30 534.26,578.80 533.70,579.20 533.07,579.80 532.64,580.30 532.25,580.90 532.05,581.30 531.84,581.80 531.66,582.30 531.52,582.80 531.30,583.80 531.14,584.80 530.91,586.80 530.85,587.80 530.77,599.80 530.75,615.40 530.75,615.40 530.73,599.80 530.65,587.80 530.59,586.80 530.36,584.80 530.20,583.80 529.98,582.80 529.84,582.30 529.66,581.80 529.45,581.30 529.25,580.90 528.86,580.30 528.43,579.80 527.80,579.20 527.24,578.80 526.35,578.30 525.42,577.80 524.75,577.40 523.11,576.30 522.45,575.80 521.92,575.30 521.14,574.30 520.86,573.80 520.75,573.30 520.93,572.80 521.37,572.30 522.55,571.30 522.95,570.90 523.85,569.80 524.60,568.80 525.67,567.30 526.33,566.30 527.21,564.80 527.76,563.80 528.00,563.30 528.40,562.30 528.72,561.30 529.00,560.30 529.25,559.30 529.56,557.80 530.03,555.30 530.19,554.30 530.34,552.80 530.46,551.30 530.51,550.30 530.55,549.00 530.64,538.30 530.70,527.30 530.75,501.30 Z" fill="#9C6757" stroke="#333333" stroke-width="0.90" stroke-linejoin="round"/>
<line x1="594.86" y1="525.60" x2="594.86" y2="672.50" stroke="#2a2a2a" stroke-width="1.25"/><path d="M594.86,525.60 L594.90,545.10 594.97,553.60 595.06,561.10 595.09,561.60 595.20,562.60 595.46,564.10 595.67,565.10 595.95,566.10 596.12,566.60 596.36,567.20 596.56,567.60 596.88,568.10 597.28,568.60 597.75,569.10 597.96,569.30 598.32,569.60 599.06,570.10 599.98,570.60 601.07,571.10 601.56,571.30 602.42,571.60 604.25,572.10 606.44,572.60 610.26,573.40 611.30,573.60 614.36,574.10 617.60,574.60 620.38,575.10 621.56,575.40 622.20,575.60 623.56,576.10 623.86,576.40 623.36,576.60 618.86,577.10 612.42,577.60 608.16,578.00 607.35,578.10 603.17,578.60 599.62,579.10 597.96,579.50 597.73,579.60 596.80,580.10 596.16,580.60 595.86,581.00 595.58,581.60 595.40,582.10 595.28,582.60 595.21,583.00 595.07,584.10 594.99,585.10 594.96,586.00 594.88,623.10 594.86,672.50 594.86,672.50 594.84,623.10 594.76,586.00 594.73,585.10 594.65,584.10 594.51,583.00 594.44,582.60 594.32,582.10 594.14,581.60 593.86,581.00 593.56,580.60 592.92,580.10 591.99,579.60 591.76,579.50 590.10,579.10 586.55,578.60 582.37,578.10 581.56,578.00 577.30,577.60 570.86,577.10 566.36,576.60 565.86,576.40 566.16,576.10 567.52,575.60 568.16,575.40 569.34,575.10 572.12,574.60 575.36,574.10 578.42,573.60 579.46,573.40 583.28,572.60 585.47,572.10 587.30,571.60 588.16,571.30 588.65,571.10 589.74,570.60 590.66,570.10 591.40,569.60 591.76,569.30 591.97,569.10 592.44,568.60 592.84,568.10 593.16,567.60 593.36,567.20 593.60,566.60 593.77,566.10 594.05,565.10 594.26,564.10 594.52,562.60 594.63,561.60 594.66,561.10 594.75,553.60 594.82,545.10 594.86,525.60 Z" fill="#00BA5D" stroke="#333333" stroke-width="0.90" stroke-linejoin="round"/>
<line x1="389.72" y1="574.90" x2="415.36" y2="574.90" stroke="#000" stroke-width="1.9"/>
<line x1="453.83" y1="574.00" x2="479.47" y2="574.00" stroke="#000" stroke-width="1.9"/>
<line x1="517.93" y1="572.10" x2="543.57" y2="572.10" stroke="#000" stroke-width="1.9"/>
<line x1="582.04" y1="575.70" x2="607.68" y2="575.70" stroke="#000" stroke-width="1.9"/>
<path d="M364.27,410.70 V693.13 H633.10 M361.87,449.20 H364.27 M361.87,513.30 H364.27 M361.87,577.40 H364.27 M361.87,641.50 H364.27 M402.54,693.13 V695.53 M466.65,693.13 V695.53 M530.75,693.13 V695.53 M594.86,693.13 V695.53" fill="none" stroke="#1a1a1a" stroke-width="1.05"/>
<text x="360.7" y="453.60" font-size="12.4" text-anchor="end" fill="#000000" class="t">10</text>
<text x="360.7" y="517.70" font-size="12.4" text-anchor="end" fill="#000000" class="t">5</text>
<text x="360.7" y="581.80" font-size="12.4" text-anchor="end" fill="#000000" class="t">0</text>
<text x="360.7" y="645.90" font-size="12.4" text-anchor="end" fill="#000000" class="t">−5</text>
<text transform="translate(406.59,697.8) rotate(-90)" font-size="12.15" text-anchor="end" fill="#000000">CEL−seq2/C1</text>
<text transform="translate(470.70,697.8) rotate(-90)" font-size="12.15" text-anchor="end" fill="#000000">Drop−seq</text>
<text transform="translate(534.80,697.8) rotate(-90)" font-size="12.15" text-anchor="end" fill="#000000">MARS−seq</text>
<text transform="translate(598.91,697.8) rotate(-90)" font-size="12.15" text-anchor="end" fill="#000000">SCRB−seq</text>
<text x="402.54" y="433.8" font-size="12.45" text-anchor="middle" fill="#000000" class="t">0.19</text>
<text x="466.65" y="433.8" font-size="12.45" text-anchor="middle" fill="#000000" class="t">0.29</text>
<text x="530.75" y="433.8" font-size="12.45" text-anchor="middle" fill="#000000" class="t">0.41</text>
<text x="594.86" y="433.8" font-size="12.45" text-anchor="middle" fill="#000000" class="t">0.15</text>
<text transform="translate(340.2,551.60) rotate(-90)" font-size="14.55" font-weight="bold" text-anchor="middle" fill="#000">Extra−Poisson Variability (UMIs)</text>
<text x="16.6" y="417.8" font-size="17.3" font-weight="bold" fill="#000">B</text>
</g></svg>
</body></html>
